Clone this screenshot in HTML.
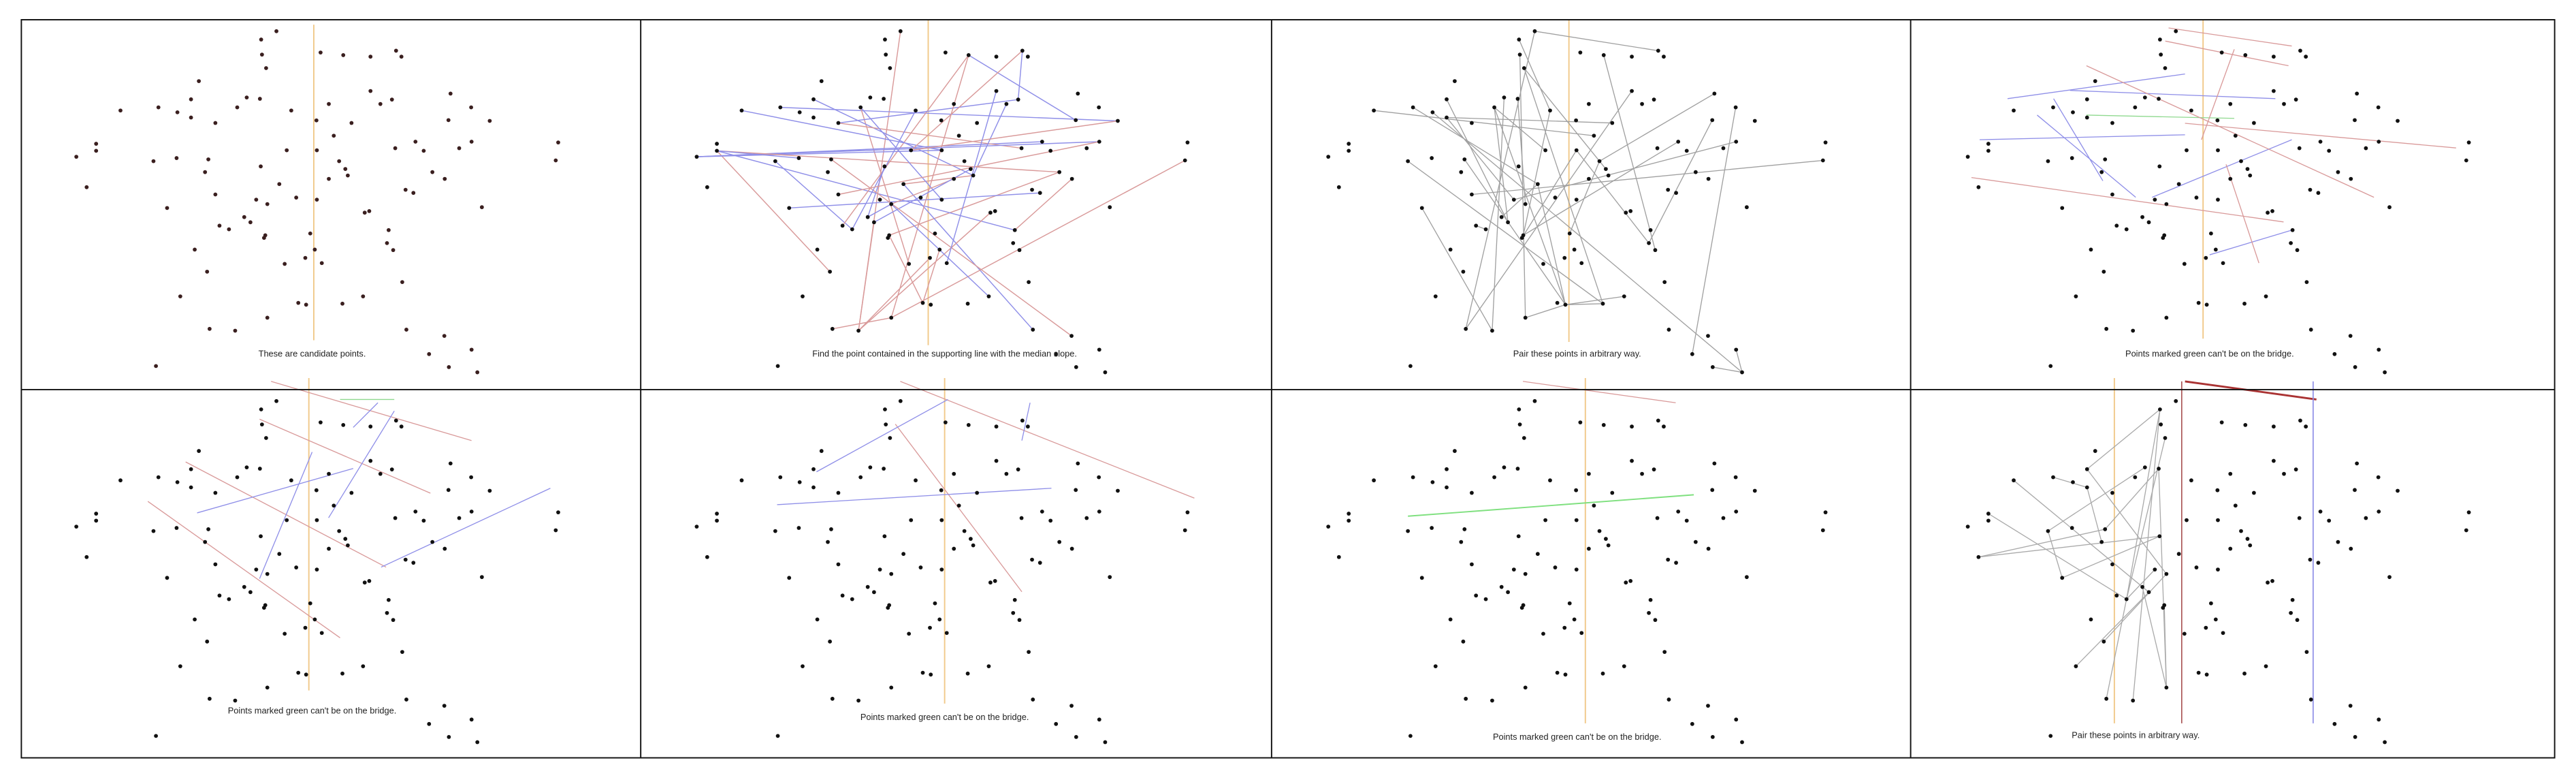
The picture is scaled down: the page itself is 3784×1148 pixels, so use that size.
<!DOCTYPE html>
<html><head><meta charset="utf-8"><style>
html,body{margin:0;padding:0;background:#fff;}
svg{display:block}
text{font-family:"Liberation Sans",sans-serif;font-size:5.3px;fill:#222;text-anchor:middle}
</style></head><body>
<svg id="s" width="3784" height="1148" viewBox="0 0 1568 475.7" xmlns="http://www.w3.org/2000/svg">
<rect x="0" y="0" width="1568" height="475.7" fill="#fff"/>
<g id="lines"></g>
<g id="dots"></g>
<g stroke="#111" stroke-width="0.8" fill="none">
<rect x="13" y="12" width="1542" height="449"/>
<line x1="13" y1="237" x2="1555" y2="237"/>
<line x1="390" y1="12" x2="390" y2="461"/>
<line x1="774" y1="12" x2="774" y2="461"/>
<line x1="1163" y1="12" x2="1163" y2="461"/>
</g>
<text x="190" y="217">These are candidate points.</text>
<text x="575" y="217">Find the point contained in the supporting line with the median slope.</text>
<text x="960" y="217">Pair these points in arbitrary way.</text>
<text x="1345" y="217">Points marked green can't be on the bridge.</text>
<text x="190" y="434">Points marked green can't be on the bridge.</text>
<text x="575" y="438">Points marked green can't be on the bridge.</text>
<text x="960" y="450">Points marked green can't be on the bridge.</text>
<text x="1300" y="449">Pair these points in arbitrary way.</text>
</svg>
<script>
var Z=[[670,120],[633,152],[635,210],[645,262],[777,202],[832,212],[898,218],[960,195],[973,218],[482,312],[898,350],[1092,360],[463,382],[598,375],[630,380],[950,383],[922,400],[797,400],[1142,413],[292,425],[384,413],[430,432],[463,452],[575,413],[706,425],[767,463],[852,473],[1087,462],[1187,465],[522,473],[809,522],[233,553],[233,580],[1007,545],[1143,545],[1353,548],[185,603],[372,620],[428,608],[505,613],[695,578],[768,578],[958,570],[1027,580],[1113,570],[1347,617],[632,640],[497,662],[822,620],[837,650],[843,675],[797,688],[1048,662],[1078,688],[210,720],[677,708],[983,730],[1002,742],[522,748],[718,760],[768,768],[621,768],[648,785],[405,800],[1168,797],[884,818],[895,812],[592,835],[607,855],[532,868],[555,882],[640,915],[643,905],[752,898],[942,885],[938,935],[953,962],[472,960],[763,960],[740,992],[690,1015],[780,1012],[502,1045],[975,1085],[437,1140],[880,1140],[723,1165],[742,1172],[830,1168],[648,1222],[508,1265],[570,1272],[985,1268],[1077,1292],[1143,1345],[1040,1362],[378,1408],[1088,1412],[1157,1432]];
var P=Z.map(function(p){return [p[0]/3.982-13,p[1]/6.323-12];});
var panels=[[13,12],[390,12],[774,12],[1163,12],[13,237],[390,237],[774,237],[1163,237]];
var W=[377,384,389,392,377,384,389,392];
var NS="http://www.w3.org/2000/svg";
var dots=document.getElementById('dots'),lines=document.getElementById('lines');
function el(t,a,par){var e=document.createElementNS(NS,t);for(var k in a)e.setAttribute(k,a[k]);par.appendChild(e);return e;}
function pt(k,i){var p=P[i];return [panels[k][0]+p[0]*W[k]/377,panels[k][1]+p[1]];}
function L(x1,y1,x2,y2,c,w){el('line',{x1:x1,y1:y1,x2:x2,y2:y2,stroke:c,'stroke-width':w||0.55},lines);}
var seed=7;function rnd(){seed=(seed*16807)%2147483647;return seed/2147483647;}
[[191,15,207],[565,12,210],[955,12,208],[1341,12,206],[188,230,420],[575,230,428],[965,230,440],[1287,230,440]].forEach(function(o){L(o[0],o[1],o[0],o[2],'#f1c98a',0.8);});
for(var i=0;i<44;i++){var a=Math.floor(rnd()*P.length),b=Math.floor(rnd()*P.length);var A=pt(1,a),B=pt(1,b);L(A[0],A[1],B[0],B[1],i%2?'#8f8fe8':'#d99a9a',0.6);}
for(var i=0;i<40;i++){var a=Math.floor(rnd()*P.length),b=Math.floor(rnd()*P.length);var A=pt(2,a),B=pt(2,b);L(A[0],A[1],B[0],B[1],'#a0a0a0',0.55);}
[[1320,17,1395,28,'#d99a9a'],[1318,25,1393,40,'#d99a9a'],[1222,60,1330,45,'#8f8fe8'],[1260,55,1385,60,'#8f8fe8'],[1205,85,1330,82,'#8f8fe8'],[1270,70,1360,72,'#8fd98f'],[1330,75,1495,90,'#d99a9a'],[1200,108,1390,135,'#d99a9a'],[1240,70,1300,120,'#8f8fe8'],[1310,120,1395,85,'#8f8fe8'],[1345,155,1395,140,'#8f8fe8'],[1270,40,1445,120,'#d99a9a'],[1250,60,1280,110,'#8f8fe8'],[1360,30,1340,85,'#d99a9a'],[1355,100,1375,160,'#d99a9a']].forEach(function(l){L(l[0],l[1],l[2],l[3],l[4]);});
[[165,232,287,268,'#d99a9a'],[90,305,207,388,'#d99a9a'],[113,281,235,345,'#d99a9a'],[158,255,262,300,'#d99a9a'],[158,352,190,275,'#8f8fe8'],[232,345,335,297,'#8f8fe8'],[207,243,240,243,'#8fd98f'],[120,312,215,285,'#8f8fe8'],[200,315,240,250,'#8f8fe8'],[215,260,230,245,'#8f8fe8']].forEach(function(l){L(l[0],l[1],l[2],l[3],l[4]);});
[[548,232,727,303,'#d99a9a'],[545,258,622,360,'#d99a9a'],[473,307,640,297,'#8f8fe8'],[497,287,577,243,'#8f8fe8'],[622,268,627,245,'#8f8fe8']].forEach(function(l){L(l[0],l[1],l[2],l[3],l[4]);});
L(927,232,1020,245,'#d99a9a');L(857,314,1031,301,'#7fe07f',0.8);
L(1330,232,1410,243,'#a33',1.2);L(1328,232,1328,440,'#a55',0.7);L(1408,232,1408,440,'#8f8fe8',0.7);
var left=[];for(var i=0;i<P.length;i++){var q=pt(7,i);if(q[0]<1326)left.push(q);}
for(var i=0;i<22;i++){var A=left[Math.floor(rnd()*left.length)],B=left[Math.floor(rnd()*left.length)];L(A[0],A[1],B[0],B[1],'#aaa',0.55);}
for(var k=0;k<8;k++)for(var i=0;i<P.length;i++){var q=pt(k,i);el('circle',{cx:q[0],cy:q[1],r:1.2,fill:k==0?'#3a1f1f':'#111'},dots);}
</script>
</body></html>
